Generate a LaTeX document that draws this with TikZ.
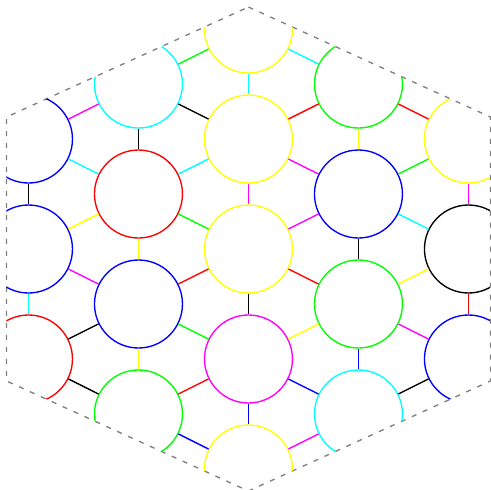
\PassOptionsToPackage{rgb}{xcolor}
\documentclass[tikz,border=0pt]{standalone}

\tikzset{
  ring/.style={circle, draw=#1, minimum size=0.8cm, inner sep=0pt, line width=0.35pt},
  link/.style={draw=#1, line width=0.35pt},
  hexframe/.style={gray, line width=0.35pt, dash pattern=on 1.3pt off 1.8pt}
}

\begin{document}
\begin{tikzpicture}
  \useasboundingbox (-2.259,-2.191) rectangle (2.205,2.264);

  % 六角形の枠
  \draw[hexframe] (0,2.2) -- (2.2,1.2) -- (2.2,-1.2) -- (0,-2.2)
    -- (-2.2,-1.2) -- (-2.2,1.2) -- cycle;

  % 円（枠の中だけ）
  \begin{scope}
    \clip (0,2.2) -- (2.2,1.2) -- (2.2,-1.2) -- (0,-2.2)
      -- (-2.2,-1.2) -- (-2.2,1.2) -- cycle;
    \node[ring=blue]    (a1) at (-2, 1)   {};
    \node[ring=blue]    (a2) at (-2, 0)   {};
    \node[ring=red]     (a3) at (-2,-1)   {};

    \node[ring=cyan]    (b1) at (-1, 1.5) {};
    \node[ring=red]     (b2) at (-1, 0.5) {};
    \node[ring=blue]    (b3) at (-1,-0.5) {};
    \node[ring=green]   (b4) at (-1,-1.5) {};

    \node[ring=yellow]  (c1) at (0, 2)    {};
    \node[ring=yellow]  (c2) at (0, 1)    {};
    \node[ring=yellow]  (c3) at (0, 0)    {};
    \node[ring=magenta] (c4) at (0,-1)    {};
    \node[ring=yellow]  (c5) at (0,-2)    {};

    \node[ring=green]   (d1) at (1, 1.5)  {};
    \node[ring=blue]    (d2) at (1, 0.5)  {};
    \node[ring=green]   (d3) at (1,-0.5)  {};
    \node[ring=cyan]    (d4) at (1,-1.5)  {};

    \node[ring=yellow]  (e1) at (2, 1)    {};
    \node[ring=black]   (e2) at (2, 0)    {};
    \node[ring=blue]    (e3) at (2,-1)    {};
  \end{scope}

  % 縦の接続線
  \draw[link=black]   (a1) -- (a2);
  \draw[link=cyan]    (a2) -- (a3);
  \draw[link=black]   (b1) -- (b2);
  \draw[link=yellow]  (b2) -- (b3);
  \draw[link=yellow]  (b3) -- (b4);
  \draw[link=cyan]    (c1) -- (c2);
  \draw[link=magenta] (c2) -- (c3);
  \draw[link=black]   (c3) -- (c4);
  \draw[link=blue]    (c4) -- (c5);
  \draw[link=yellow]  (d1) -- (d2);
  \draw[link=black]   (d2) -- (d3);
  \draw[link=blue]    (d3) -- (d4);
  \draw[link=magenta] (e1) -- (e2);
  \draw[link=red]     (e2) -- (e3);

  % 斜めの接続線
  \draw[link=magenta] (a1) -- (b1);
  \draw[link=cyan]    (a1) -- (b2);
  \draw[link=yellow]  (a2) -- (b2);
  \draw[link=magenta] (a2) -- (b3);
  \draw[link=black]   (a3) -- (b3);
  \draw[link=black]   (a3) -- (b4);

  \draw[link=green]   (b1) -- (c1);
  \draw[link=black]   (b1) -- (c2);
  \draw[link=cyan]    (b2) -- (c2);
  \draw[link=green]   (b2) -- (c3);
  \draw[link=red]     (b3) -- (c3);
  \draw[link=green]   (b3) -- (c4);
  \draw[link=red]     (b4) -- (c4);
  \draw[link=blue]    (b4) -- (c5);

  \draw[link=cyan]    (c1) -- (d1);
  \draw[link=red]     (c2) -- (d1);
  \draw[link=magenta] (c2) -- (d2);
  \draw[link=magenta] (c3) -- (d2);
  \draw[link=red]     (c3) -- (d3);
  \draw[link=yellow]  (c4) -- (d3);
  \draw[link=blue]    (c4) -- (d4);
  \draw[link=magenta] (c5) -- (d4);

  \draw[link=red]     (d1) -- (e1);
  \draw[link=green]   (d2) -- (e1);
  \draw[link=cyan]    (d2) -- (e2);
  \draw[link=yellow]  (d3) -- (e2);
  \draw[link=magenta] (d3) -- (e3);
  \draw[link=black]   (d4) -- (e3);
\end{tikzpicture}
\end{document}
